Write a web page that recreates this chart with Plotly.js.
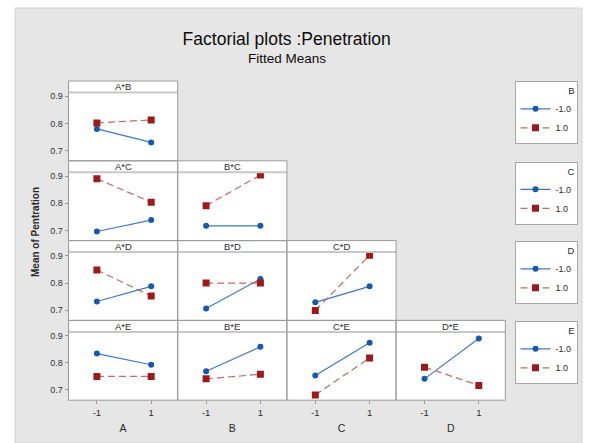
<!DOCTYPE html>
<html>
<head>
<meta charset="utf-8">
<script src="https://cdn.plot.ly/plotly-3.0.1.min.js"></script>
<style>html,body{margin:0;padding:0;background:#fff;}#chart{width:589px;height:443px;}</style>
</head>
<body>
<div id="chart"></div>
<script>
// ---- data (fitted means) ----
const xLevels = [-1, 1];
const xTickText = ['-1', '1'];
const factors = ['A', 'B', 'C', 'D', 'E'];
const levelLabels = ['-1.0', '1.0'];
const yTicks = [0.7, 0.8, 0.9];
const yTickText = ['0.7', '0.8', '0.9'];

// "low" = legend factor at -1 (blue), "high" = legend factor at +1 (red)
const AB_low = [0.780, 0.730], AB_high = [0.802, 0.813];
const AC_low = [0.696, 0.738], AC_high = [0.890, 0.804];
const BC_low = [0.717, 0.717], BC_high = [0.791, 0.904];
const AD_low = [0.732, 0.788], AD_high = [0.848, 0.752];
const BD_low = [0.706, 0.815], BD_high = [0.800, 0.800];
const CD_low = [0.729, 0.788], CD_high = [0.699, 0.902];
const AE_low = [0.834, 0.793], AE_high = [0.750, 0.750];
const BE_low = [0.769, 0.859], BE_high = [0.741, 0.758];
const CE_low = [0.753, 0.874], CE_high = [0.682, 0.818];
const DE_low = [0.741, 0.890], DE_high = [0.784, 0.717];

const panels = [
  {row: 0, col: 0, title: 'A*B', low: AB_low, high: AB_high},
  {row: 1, col: 0, title: 'A*C', low: AC_low, high: AC_high},
  {row: 1, col: 1, title: 'B*C', low: BC_low, high: BC_high},
  {row: 2, col: 0, title: 'A*D', low: AD_low, high: AD_high},
  {row: 2, col: 1, title: 'B*D', low: BD_low, high: BD_high},
  {row: 2, col: 2, title: 'C*D', low: CD_low, high: CD_high},
  {row: 3, col: 0, title: 'A*E', low: AE_low, high: AE_high},
  {row: 3, col: 1, title: 'B*E', low: BE_low, high: BE_high},
  {row: 3, col: 2, title: 'C*E', low: CE_low, high: CE_high},
  {row: 3, col: 3, title: 'D*E', low: DE_low, high: DE_high}
];

// ---- layout geometry ----
const W = 589, H = 443;
const colL = [68.5, 177.7, 286.9, 396.1], colW = 109.2;
const rowT = [81, 160.8, 240.6, 320.4], rowH = 79.8, headerH = 11.5;
const xRange = [-2.046, 1.976];
const yRange = [0.6624, 0.914];
const legendIds = ['legend', 'legend2', 'legend3', 'legend4'];

const FONT = 'Liberation Sans, Arial, sans-serif';
const NARROW = 'Liberation Sans Narrow, Liberation Sans, Arial, sans-serif';
const TXT = '#2b2b2b';
const BLUE_M = '#1b59a6', BLUE_L = '#3f78c2';
const RED_M = '#9a1b1b', RED_L = '#c46a6a';

const px = v => v / W;
const py = v => 1 - v / H;

const traces = [];
const shapes = [
  {type: 'rect', xref: 'paper', yref: 'paper', x0: px(15), x1: px(582), y0: py(443), y1: py(8),
   fillcolor: '#e6e6e6', line: {color: '#d2d2d2', width: 1}, layer: 'below'}
];
const annotations = [];
const layout = {
  width: W, height: H,
  margin: {l: 0, r: 0, t: 0, b: 0},
  paper_bgcolor: '#ffffff',
  plot_bgcolor: '#ffffff',
  showlegend: true,
  font: {family: FONT, color: TXT},
  title: {
    text: 'Factorial plots :Penetration',
    x: px(286.7), xanchor: 'center', xref: 'paper',
    y: py(39), yanchor: 'middle', yref: 'paper',
    font: {family: NARROW, size: 17.5, color: '#0d0d0d'}
  }
};

annotations.push({
  text: 'Fitted Means', xref: 'paper', yref: 'paper', x: px(286.5), y: py(58),
  xanchor: 'center', yanchor: 'middle', showarrow: false,
  font: {family: NARROW, size: 13.5, color: '#0d0d0d'}
});
annotations.push({
  text: '<b>Mean of Pentration</b>', xref: 'paper', yref: 'paper', x: px(35), y: py(232),
  xanchor: 'center', yanchor: 'middle', textangle: -90, showarrow: false,
  font: {family: FONT, size: 10, color: TXT}
});

panels.forEach((p, k) => {
  const n = k + 1;
  const s = n === 1 ? '' : String(n);
  const left = colL[p.col], right = left + colW;
  const top = rowT[p.row], bot = top + rowH, ptop = top + headerH;
  const bottomRow = p.row === 3, firstCol = p.col === 0;

  layout['xaxis' + s] = {
    domain: [px(left), px(right)], range: xRange, anchor: 'y' + s,
    showgrid: false, zeroline: false, showline: false, fixedrange: true,
    tickvals: xLevels, ticktext: xTickText,
    showticklabels: bottomRow, ticks: bottomRow ? 'outside' : '',
    ticklen: 3, tickcolor: '#9a9a9a', tickwidth: 1,
    tickfont: {family: FONT, size: 9.5, color: TXT},
    automargin: false,
    title: bottomRow ? {text: factors[p.col], standoff: 8, font: {family: FONT, size: 10.5, color: TXT}} : {text: ''}
  };
  layout['yaxis' + s] = {
    domain: [py(bot), py(ptop)], range: yRange, anchor: 'x' + s,
    showgrid: false, zeroline: false, showline: false, fixedrange: true,
    tickvals: yTicks, ticktext: yTickText,
    showticklabels: firstCol, ticks: firstCol ? 'outside' : '',
    ticklen: 3, tickcolor: '#9a9a9a', tickwidth: 1,
    tickfont: {family: FONT, size: 9, color: '#333333'},
    automargin: false
  };

  const legendFactor = factors[p.row + 1];
  traces.push({
    type: 'scatter', mode: 'lines+markers', x: xLevels, y: p.low,
    xaxis: 'x' + s, yaxis: 'y' + s, name: levelLabels[0],
    legend: legendIds[p.row], showlegend: firstCol, legendgroup: legendFactor + 'low',
    line: {color: BLUE_L, width: 1.2},
    marker: {symbol: 'circle', size: 6, color: BLUE_M},
    hoverinfo: 'x+y'
  });
  traces.push({
    type: 'scatter', mode: 'lines+markers', x: xLevels, y: p.high,
    xaxis: 'x' + s, yaxis: 'y' + s, name: levelLabels[1],
    legend: legendIds[p.row], showlegend: firstCol, legendgroup: legendFactor + 'high',
    line: {color: RED_L, width: 1.2, dash: '7px,4px'},
    marker: {symbol: 'square', size: 7, color: RED_M},
    hoverinfo: 'x+y'
  });

  // panel background (header + plot), header divider, border
  shapes.push({type: 'rect', xref: 'paper', yref: 'paper', x0: px(left), x1: px(right), y0: py(bot), y1: py(top),
    fillcolor: '#ffffff', line: {width: 0}, layer: 'below'});
  shapes.push({type: 'line', xref: 'paper', yref: 'paper', x0: px(left), x1: px(right), y0: py(ptop), y1: py(ptop),
    line: {color: '#c8c8c8', width: 2}, layer: 'above'});
  shapes.push({type: 'rect', xref: 'paper', yref: 'paper', x0: px(left), x1: px(right), y0: py(bot), y1: py(top),
    fillcolor: 'rgba(0,0,0,0)', line: {color: '#9a9a9a', width: 1}, layer: 'above'});
  annotations.push({
    text: p.title, xref: 'paper', yref: 'paper', x: px((left + right) / 2), y: py(top + headerH / 2),
    xanchor: 'center', yanchor: 'middle', showarrow: false,
    font: {family: FONT, size: 9.5, color: TXT}
  });
});

const legendTops = [81, 161.5, 241, 321];
legendIds.forEach((id, i) => {
  layout[id] = {
    x: px(546), y: py(legendTops[i]), xanchor: 'center', yanchor: 'top',
    xref: 'paper', yref: 'paper',
    bgcolor: '#ffffff', bordercolor: '#a8a8a8', borderwidth: 1,
    font: {family: FONT, size: 9, color: TXT},
    title: {text: factors[i + 1], side: 'top right', font: {family: FONT, size: 9.5, color: TXT}},
    itemwidth: 30, tracegroupgap: 0, itemclick: false, itemdoubleclick: false
  };
});

layout.shapes = shapes;
layout.annotations = annotations;

Plotly.newPlot('chart', traces, layout, {displayModeBar: false, staticPlot: true});
</script>
</body>
</html>
